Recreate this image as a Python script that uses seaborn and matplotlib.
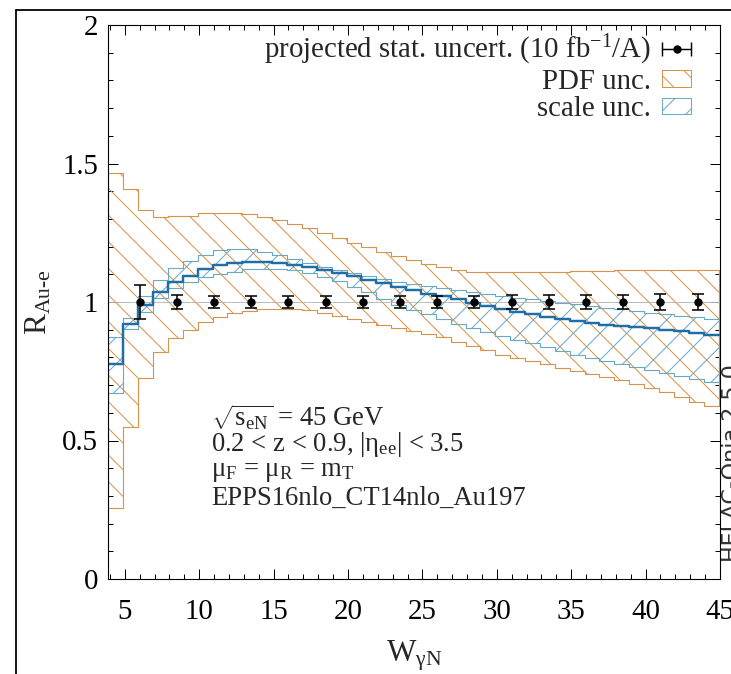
import numpy as np
import matplotlib
matplotlib.use('Agg')
import matplotlib.pyplot as plt
import seaborn as sns
from matplotlib.lines import Line2D
from matplotlib.patches import Patch
from matplotlib.legend_handler import HandlerLine2D, HandlerTuple
from matplotlib.ticker import MultipleLocator, FormatStrFormatter

# bins in W (GeV), width 1
w_edges = np.arange(3.9, 45.0, 1.0)

# PDF uncertainty band
pdf_hi = [1.465, 1.407, 1.332, 1.308, 1.310, 1.312, 1.320, 1.322, 1.322, 1.316,
          1.308, 1.296, 1.280, 1.266, 1.248, 1.230, 1.212, 1.198, 1.182, 1.165,
          1.150, 1.136, 1.125, 1.117, 1.110, 1.108, 1.108, 1.110, 1.110, 1.110,
          1.110, 1.112, 1.112, 1.112, 1.114, 1.114, 1.114, 1.116, 1.116, 1.116, 1.116]
pdf_lo = [0.255, 0.550, 0.727, 0.818, 0.869, 0.899, 0.929, 0.947, 0.959, 0.968,
          0.974, 0.976, 0.975, 0.970, 0.960, 0.950, 0.940, 0.929, 0.917, 0.905,
          0.895, 0.885, 0.872, 0.856, 0.840, 0.825, 0.810, 0.798, 0.787, 0.775,
          0.763, 0.751, 0.740, 0.729, 0.718, 0.703, 0.690, 0.675, 0.658, 0.640, 0.624]

# scale uncertainty band + central value
sc_hi = [0.875, 0.941, 1.023, 1.079, 1.122, 1.148, 1.170, 1.186, 1.192, 1.190,
         1.182, 1.168, 1.155, 1.142, 1.128, 1.115, 1.104, 1.094, 1.084, 1.074,
         1.064, 1.056, 1.050, 1.043, 1.036, 1.030, 1.023, 1.016, 1.010, 1.004,
         0.998, 0.992, 0.986, 0.980, 0.974, 0.968, 0.962, 0.956, 0.950, 0.945, 0.940]
sc_lo = [0.673, 0.901, 0.963, 1.013, 1.049, 1.073, 1.091, 1.100, 1.110, 1.118,
         1.120, 1.120, 1.115, 1.105, 1.090, 1.075, 1.055, 1.035, 1.012, 0.990,
         0.972, 0.955, 0.940, 0.922, 0.905, 0.890, 0.877, 0.864, 0.852, 0.838,
         0.824, 0.810, 0.797, 0.786, 0.776, 0.766, 0.755, 0.745, 0.734, 0.723, 0.712]
central = [0.776, 0.920, 0.989, 1.037, 1.071, 1.094, 1.119, 1.132, 1.140, 1.145,
           1.146, 1.142, 1.135, 1.126, 1.115, 1.104, 1.093, 1.080, 1.067, 1.055,
           1.043, 1.030, 1.020, 1.010, 0.998, 0.986, 0.975, 0.965, 0.955, 0.946,
           0.938, 0.930, 0.924, 0.918, 0.914, 0.909, 0.905, 0.900, 0.894, 0.888, 0.882]

# projected pseudo-data
w_pts = [6.0, 8.5, 11.0, 13.5, 16.0, 18.5, 21.0, 23.5, 26.0, 28.5, 31.0, 33.5,
         36.0, 38.5, 41.0, 43.5]
r_pts = [1.0, 1.0, 1.0, 1.0, 1.0, 1.0, 1.0, 1.0, 1.0, 1.0, 1.0, 1.0, 1.0, 1.0, 1.0, 1.0]
r_err = [0.063, 0.027, 0.022, 0.020, 0.020, 0.020, 0.021, 0.021, 0.022, 0.023,
         0.024, 0.025, 0.026, 0.027, 0.028, 0.029]

c_pdf = '#d4944c'
c_sc = '#6aa8c8'
c_cen = '#1f6ea6'


def ext(v):
    # repeat last value so step='post' reaches the last edge
    return list(v) + [v[-1]]


sns.set_theme(style='ticks')
plt.rcParams.update({
    'font.family': ['Liberation Serif', 'DejaVu Serif'],
    'mathtext.fontset': 'custom',
    'mathtext.rm': 'Liberation Serif',
    'mathtext.it': 'Liberation Serif',
    'mathtext.bf': 'Liberation Serif:bold',
    'mathtext.default': 'regular',
    'hatch.linewidth': 0.9,
    'axes.edgecolor': 'black',
    'axes.linewidth': 1.0,
    'xtick.color': 'black',
    'ytick.color': 'black',
})

fig = plt.figure(figsize=(731 / 80, 674 / 80), dpi=80)
ax = fig.add_axes([108 / 731, 1 - 579 / 674, 612 / 731, 554 / 674])

ax.fill_between(w_edges, ext(pdf_lo), ext(pdf_hi), step='post', facecolor='none',
                edgecolor=c_pdf, hatch='\\', lw=1.0)
ax.fill_between(w_edges, ext(sc_lo), ext(sc_hi), step='post', facecolor='none',
                edgecolor=c_sc, hatch='/', lw=1.0)
sns.lineplot(x=w_edges, y=ext(central), drawstyle='steps-post', estimator=None,
             color=c_cen, lw=2.2, ax=ax)
ax.axhline(1.0, color='#b5b5b5', lw=0.8, zorder=1)
ax.errorbar(w_pts, r_pts, yerr=r_err, fmt='o', color='black', ms=6.5,
            elinewidth=1.4, capsize=5.5, capthick=1.4, zorder=5)

ax.set_xlim(3.87, 45)
ax.set_ylim(0, 2)
ax.xaxis.set_major_locator(MultipleLocator(5))
ax.xaxis.set_minor_locator(MultipleLocator(1))
ax.yaxis.set_major_locator(MultipleLocator(0.5))
ax.yaxis.set_minor_locator(MultipleLocator(0.1))
ax.yaxis.set_major_formatter(FormatStrFormatter('%g'))
ax.tick_params(which='both', direction='in', top=True, right=True, width=0.9)
ax.tick_params(which='major', length=9)
ax.tick_params(which='minor', length=4.5)
ax.tick_params(axis='x', which='major', labelsize=26, pad=18)
ax.tick_params(axis='y', which='major', labelsize=26, pad=9)

ax.set_xlabel(r'W$_{\mathregular{\gamma N}}$', fontsize=28, labelpad=12)
ax.set_ylabel(r'R$_{\mathregular{Au\text{-}e}}$', fontsize=28, labelpad=8)

# legend
h_bar = Line2D([], [], color='black', lw=1.3, marker='|', markersize=12, markeredgewidth=1.3)
h_dot = Line2D([], [], color='black', ls='none', marker='o', markersize=6.5)
h_pdf = Patch(facecolor='none', edgecolor=c_pdf, hatch='\\', lw=0.9)
h_sc = Patch(facecolor='none', edgecolor=c_sc, hatch='/', lw=0.9)
ax.legend([(h_bar, h_dot), h_pdf, h_sc],
          [r'projected stat. uncert. (10 fb$^{\mathregular{-1}}$/A)', 'PDF unc.', 'scale unc.'],
          handler_map={h_bar: HandlerLine2D(numpoints=2, marker_pad=0),
                       h_dot: HandlerLine2D(numpoints=1),
                       tuple: HandlerTuple(ndivide=1, pad=0)},
          markerfirst=False, alignment='right', frameon=False, loc='upper right',
          bbox_to_anchor=(0.953, 0.985), fontsize=26, handlelength=1.0,
          handleheight=0.5, handletextpad=0.4, labelspacing=0.05, borderpad=0,
          borderaxespad=0)

# process info
info = [r'$\sqrt{\mathregular{s_{eN}}}$ = 45 GeV',
        r'0.2 < z < 0.9, |η$_{\mathregular{ee}}$| < 3.5',
        r'μ$_{\mathregular{F}}$ = μ$_{\mathregular{R}}$ = m$_{\mathregular{T}}$',
        'EPPS16nlo_CT14nlo_Au197']
for i, s in enumerate(info):
    ax.text(0.168, 0.292 - 0.049 * i, s, transform=ax.transAxes, fontsize=24,
            ha='left', va='center')

fig.text(722 / 731, 1 - 562 / 674, 'HELAC-Onia 2.5.0', rotation=90, rotation_mode='anchor',
         ha='left', va='top', fontsize=20, family='DejaVu Sans', color='#333333')

# screenshot frame
fig.add_artist(Line2D([16 / 731, 16 / 731], [0, 1 - 10 / 674], transform=fig.transFigure,
                      color='black', lw=1.6))
fig.add_artist(Line2D([16 / 731, 1], [1 - 10 / 674, 1 - 10 / 674], transform=fig.transFigure,
                      color='black', lw=1.6))

fig.savefig('out.png', dpi=80)
